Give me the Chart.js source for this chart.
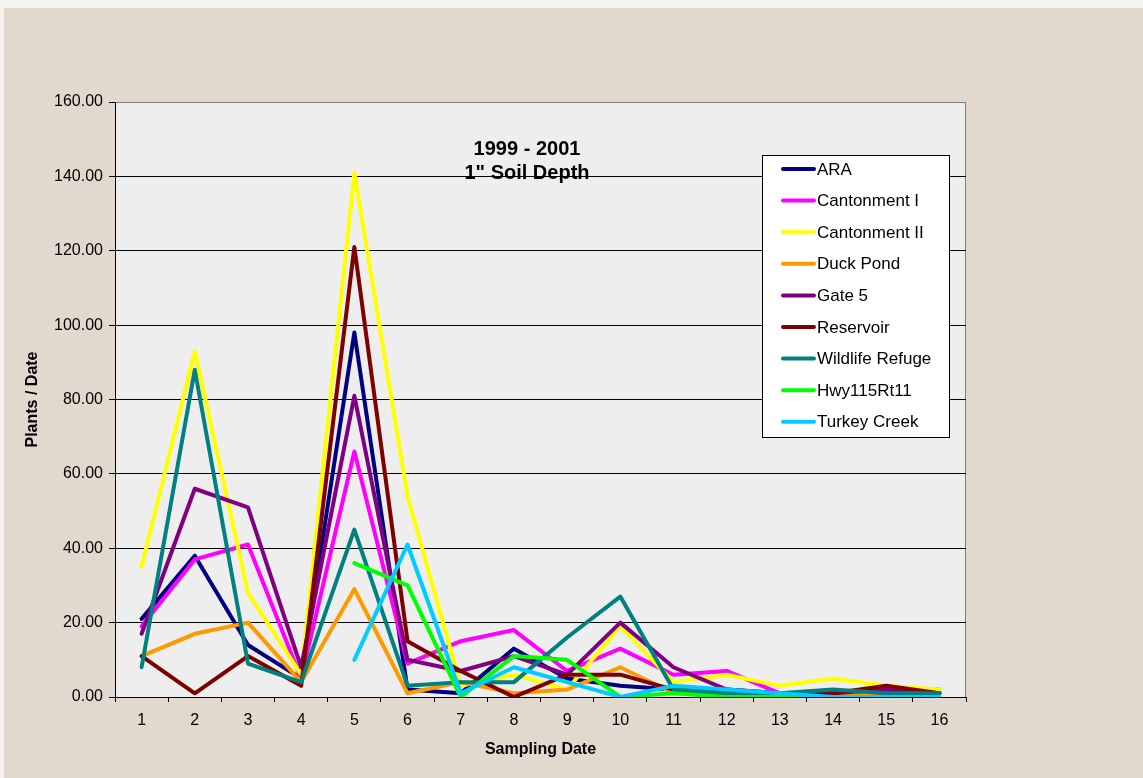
<!DOCTYPE html>
<html>
<head>
<meta charset="utf-8">
<script src="https://cdn.jsdelivr.net/npm/chart.js@4.4.0/dist/chart.umd.min.js"></script>
<style>
html,body{margin:0;padding:0;background:#e2dacf;}
canvas{display:block;}
</style>
</head>
<body>
<canvas id="c" width="1143" height="778"></canvas>
<script>
const categories = ['1','2','3','4','5','6','7','8','9','10','11','12','13','14','15','16'];
const seriesNames = ['ARA','Cantonment I','Cantonment II','Duck Pond','Gate 5','Reservoir','Wildlife Refuge','Hwy115Rt11','Turkey Creek'];
const seriesColors = ['#000080','#ff00ff','#ffff00','#ff9900','#800080','#800000','#008080','#00ff00','#00ccff'];
const ara            = [21, 38, 14, 5, 98, 2, 1, 13, 5, 3, 2, 2, 1, 1, 2, 1];
const cantonmentI    = [19, 37, 41, 5, 66, 9, 15, 18, 7, 13, 6, 7, 1, 1, 2, 2];
const cantonmentII   = [35, 93, 28, 6, 141, 54, 3, 6, 2, 19, 4, 6, 3, 5, 3, 2];
const duckPond       = [11, 17, 20, 4, 29, 1, 4, 1, 2, 8, 1, 1, 1, 1, 1, 1];
const gate5          = [17, 56, 51, 8, 81, 10, 7, 11, 6, 20, 8, 2, 1, 1, 2, 1];
const reservoir      = [11, 1, 11, 3, 121, 15, 7, 0, 6, 6, 2, 1, 0, 1, 3, 1];
const wildlifeRefuge = [8, 88, 9, 4, 45, 3, 4, 4, 16, 27, 2, 1, 1, 2, 1, 1];
const hwy115Rt11     = [null, null, null, null, 36, 30, 0, 11, 10, 0, 1, 0, 0, 0, 0, 0];
const turkeyCreek    = [null, null, null, null, 10, 41, 1, 8, 4, 0, 3, 2, 1, 0, 0, 0];
const allSeries = [ara, cantonmentI, cantonmentII, duckPond, gate5, reservoir, wildlifeRefuge, hwy115Rt11, turkeyCreek];
const yTicksMin = 0, yTicksMax = 160, yStep = 20;
const titleLines = ['1999 - 2001', '1" Soil Depth'];
const xTitle = 'Sampling Date';
const yTitle = 'Plants / Date';

const FONT = '"Liberation Sans", Arial, sans-serif';

const bgPlugin = {
  id: 'bg',
  beforeDraw(chart) {
    const {ctx, chartArea: a, width, height} = chart;
    ctx.save();
    ctx.fillStyle = '#f6f4f0';
    ctx.fillRect(0, 0, width, height);
    ctx.fillStyle = '#e2d9ce';
    ctx.fillRect(4, 8, width - 4, height - 8);
    ctx.fillStyle = '#eeeeee';
    ctx.fillRect(a.left, a.top, a.right - a.left, a.bottom - a.top);
    ctx.strokeStyle = '#808080';
    ctx.lineWidth = 1;
    ctx.strokeRect(a.left + 0.5, a.top + 0.5, a.right - a.left - 1, a.bottom - a.top);
    ctx.restore();
  }
};

const overlayPlugin = {
  id: 'overlay',
  afterDatasetsDraw(chart) {
    const {ctx, chartArea: a} = chart;
    ctx.save();
    // inner title
    ctx.fillStyle = '#000';
    ctx.font = 'bold 20px ' + FONT;
    ctx.textAlign = 'center';
    ctx.textBaseline = 'middle';
    const cx = a.left + 412;
    ctx.fillText(titleLines[0], cx, a.top + 47);
    ctx.fillText(titleLines[1], cx, a.top + 71);
    // legend box
    const lx = 762, ly = 155, lw = 187, lh = 282;
    ctx.fillStyle = '#ffffff';
    ctx.fillRect(lx, ly, lw, lh);
    ctx.strokeStyle = '#000';
    ctx.lineWidth = 1;
    ctx.strokeRect(lx + 0.5, ly + 0.5, lw, lh);
    ctx.font = '17px ' + FONT;
    ctx.textAlign = 'left';
    chart.data.datasets.forEach((ds, i) => {
      const y = ly + 14 + i * 31.6;
      ctx.strokeStyle = ds.borderColor;
      ctx.lineWidth = 4;
      ctx.lineCap = 'round';
      ctx.beginPath();
      ctx.moveTo(783, y);
      ctx.lineTo(814, y);
      ctx.stroke();
      ctx.fillStyle = '#000';
      ctx.fillText(ds.label, 817, y + 1);
    });
    ctx.restore();
  }
};

const datasets = seriesNames.map((name, i) => ({
  label: name,
  data: allSeries[i],
  borderColor: seriesColors[i],
  backgroundColor: seriesColors[i],
  borderWidth: 4,
  pointRadius: 0,
  pointHoverRadius: 0,
  tension: 0,
  fill: false,
  spanGaps: false,
  order: seriesNames.length - i,
  borderJoinStyle: 'round',
  borderCapStyle: 'round'
}));

new Chart(document.getElementById('c'), {
  type: 'line',
  data: { labels: categories, datasets },
  options: {
    responsive: false,
    animation: false,
    layout: { padding: { left: 0, top: 102, right: 177, bottom: 0 } },
    plugins: {
      legend: { display: false },
      title: { display: false },
      tooltip: { enabled: false }
    },
    scales: {
      x: {
        type: 'category',
        offset: true,
        afterFit(s) { s.height = 81; },
        grid: { display: true, offset: true, drawOnChartArea: false, drawTicks: true, tickLength: 5, tickColor: '#000', color: '#000' },
        border: { display: true, color: '#000', width: 1 },
        ticks: { color: '#000', font: { family: FONT, size: 16 }, padding: 9, maxRotation: 0, autoSkip: false },
        title: { display: true, text: xTitle, color: '#000', font: { family: FONT, size: 16, weight: 'bold' }, padding: { top: 0, bottom: 19 } }
      },
      y: {
        min: yTicksMin, max: yTicksMax,
        afterFit(s) { s.width = 115; },
        grid: {
          color: ctx => (ctx.tick && ctx.tick.value === yTicksMax) ? '#808080' : '#000',
          lineWidth: 1, drawTicks: true, tickLength: 6, tickColor: '#000'
        },
        border: { display: true, color: '#000', width: 1 },
        ticks: {
          stepSize: yStep, color: '#000', padding: 6,
          font: { family: FONT, size: 16 },
          callback: v => Number(v).toFixed(2)
        },
        title: { display: true, text: yTitle, color: '#000', font: { family: FONT, size: 16, weight: 'bold' }, padding: { top: 23, bottom: 0 } }
      }
    }
  },
  plugins: [bgPlugin, overlayPlugin]
});
</script>
</body>
</html>
